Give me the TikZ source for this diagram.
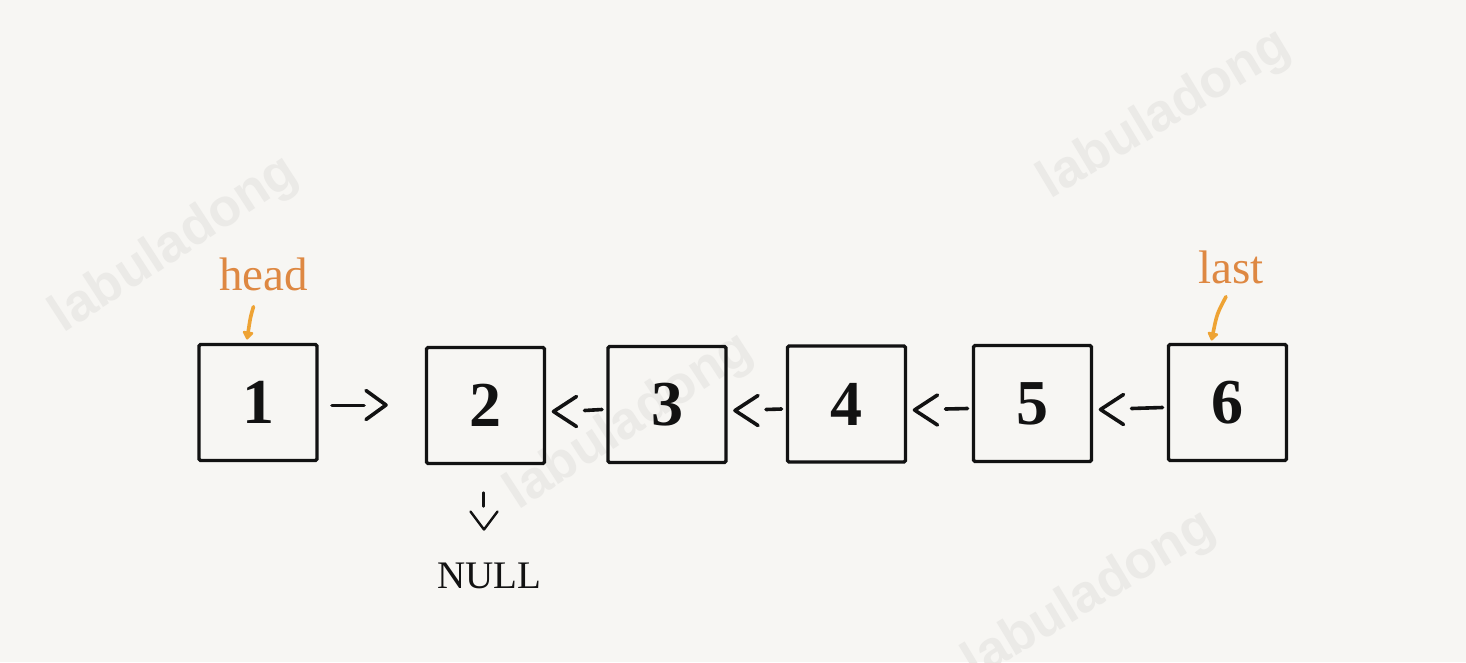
\documentclass[tikz,border=0pt]{standalone}
\usepackage{fontspec}
\setmainfont{Liberation Serif}
\newfontfamily\wmfont{Liberation Sans}
\usetikzlibrary{arrows.meta,calc}
\definecolor{bgcol}{RGB}{247,246,243}
\definecolor{wmcol}{RGB}{235,234,231}
\definecolor{labelcol}{RGB}{222,136,66}
\definecolor{ptrcol}{RGB}{238,163,52}
\definecolor{inkcol}{RGB}{18,18,18}
\tikzset{
  listbox/.style={draw=inkcol, line width=3.3pt, minimum width=118pt, minimum height=116pt,
    inner sep=0pt, outer sep=0pt, rounded corners=1.5pt,
    font=\bfseries\fontsize{64}{64}\selectfont, text=inkcol},
  glyph/.style={draw=inkcol, line width=3.6pt, line cap=round, line join=round},
  thinglyph/.style={draw=inkcol, line width=2.4pt, line cap=round, line join=round},
  ptrlabel/.style={text=labelcol, font=\fontsize{47}{47}\selectfont, anchor=base, inner sep=0pt},
  ptr/.style={draw=ptrcol, line width=3.6pt, line cap=round,
    -{Triangle[round,length=9pt,width=12pt]}},
  wm/.style={text=wmcol, font=\wmfont\bfseries\fontsize{53}{53}\selectfont, inner sep=0pt}
}
\newcommand\backarrow[2]{%
  \draw[glyph] ($(#1.east)+(32,-9)$) -- ($(#1.east)+(9,6)$) -- ($(#1.east)+(32,21)$);
  \draw[glyph] ($(#1.east)+(40,5)$) -- ($(#2.west)+(-6,5)$);
}
\begin{document}
\begin{tikzpicture}[x=1pt,y=-1pt]
\fill[bgcol] (0,0) rectangle (1466,662);
\useasboundingbox (0,0) rectangle (1466,662);
% watermarks
\node[wm, rotate=33] (wm1) at (175,245) {labuladong};
\node[wm, rotate=31] (wm2) at (1165,115) {labuladong};
\node[wm, rotate=33] (wm3) at (630,422) {labuladong};
\node[wm, rotate=31] (wm4) at (1090,596) {labuladong};
% boxes
\node[listbox] (n1) at (258,402.5) {1};
\node[listbox] (n2) at (485.5,405.5) {2};
\node[listbox] (n3) at (667,404.5) {3};
\node[listbox] (n4) at (846.5,404) {4};
\node[listbox] (n5) at (1032.5,403.5) {5};
\node[listbox] (n6) at (1227.5,402.5) {6};
% forward arrow 1 -> 2
\draw[glyph] ($(n1.east)+(15,3)$) -- ($(n1.east)+(47,3)$);
\draw[glyph] ($(n1.east)+(49,-12)$) -- ($(n1.east)+(69,2.5)$) -- ($(n1.east)+(49,17)$);
% backward arrows
\backarrow{n2}{n3}
\backarrow{n3}{n4}
\backarrow{n4}{n5}
\backarrow{n5}{n6}
% NULL
\node[anchor=base, inner sep=0pt, text=inkcol, font=\fontsize{39}{39}\selectfont] (null) at (489,588) {NULL};
\draw[thinglyph] ($(n2.south)+(-2,29)$) -- ($(n2.south)+(-2,43)$);
\draw[thinglyph] ($(n2.south)+(-15,48)$) -- ($(n2.south)+(-1.5,66)$) -- ($(n2.south)+(12,48)$);
% pointers
\node[ptrlabel] (head) at (263.5,290) {head};
\node[ptrlabel] (last) at (1231,283) {last};
\coordinate (headtip) at ($(n1.north)+(-11,-5)$);
\coordinate (lasttip) at ($(n6.north)+(-16,-4)$);
\draw[ptr] ($(head.south)+(-10,16)$) .. controls ($(head.south)+(-13,26)$) .. (headtip);
\draw[ptr] ($(last.south)+(-5,13)$) .. controls ($(last.south)+(-14,30)$) .. (lasttip);
\end{tikzpicture}
\end{document}
